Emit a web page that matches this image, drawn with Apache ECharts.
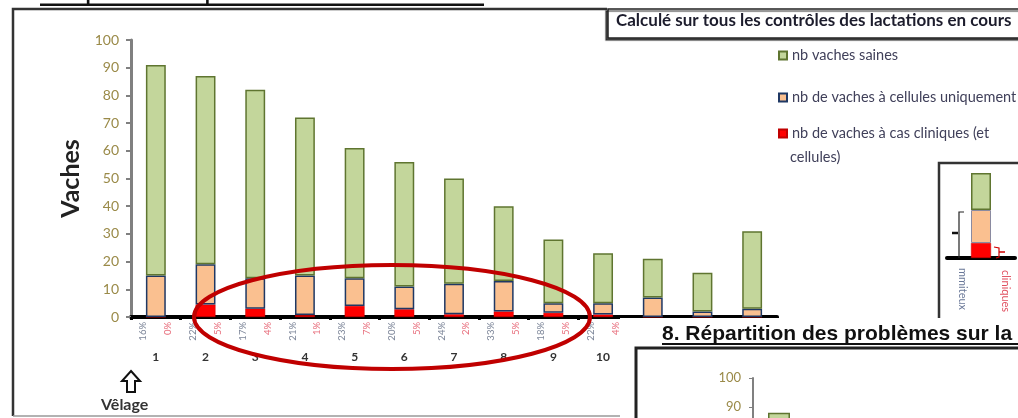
<!DOCTYPE html>
<html>
<head>
<meta charset="utf-8">
<script src="https://cdn.jsdelivr.net/npm/echarts@6/dist/echarts.min.js"></script>
<style>html,body{margin:0;padding:0;background:#fff}#c{width:1018px;height:418px}</style>
</head>
<body>
<div id="c"></div>
<script>
// ---- data ----
const categories = ['1','2','3','4','5','6','7','8','9','10','11','12','13'];
const healthy   = [76, 68, 68, 57, 47, 45, 38, 27, 23, 18, 14, 14, 28];
const cellsOnly = [15, 14.5, 11, 14.3, 10, 8.2, 11, 11, 3.5, 4.1, 7, 2, 3];
const clinical  = [0, 4.5, 3, 0.7, 4, 2.8, 1, 2, 1.5, 0.9, 0, 0, 0];
const cellsPct    = ['16%','22%','17%','21%','23%','20%','24%','33%','18%','22%','33%','13%','10%'];
const clinicalPct = ['0%','5%','4%','1%','7%','5%','2%','5%','5%','4%','0%','0%','0%'];
const yTicks = [0,10,20,30,40,50,60,70,80,90,100];
// inset schematic bar (relative heights)
const insetCategories = ['ex'];
const insetClinical = [15];
const insetCells = [33];
const insetHealthy = [37];
// overlapping next chart (only first bar visible)
const nextCategories = ['1'];
const nextHealthy = [88];

const nameHealthy = 'nb vaches saines';
const nameCells = 'nb de vaches à cellules uniquement';
const nameClin = 'nb de vaches à cas cliniques (et';

const pctLabels = [];
categories.forEach((c,i)=>{ pctLabels.push(cellsPct[i]); pctLabels.push(clinicalPct[i]); });

const FONT = 'Lato';
const olive = '#9a8a48';
const green = '#c3d69b', greenB = '#5f7530';
const orange = '#fac090', orangeB = '#1f3864';
const red = '#ff0000', redB = '#c00000';

const chart = echarts.init(document.getElementById('c'), null, {renderer:'canvas'});
const legendBase = {orient:'vertical', left:778, padding:0, itemWidth:8, itemHeight:8, icon:'rect',
  textStyle:{fontFamily:FONT, fontSize:14.5, color:'#40405a'}, itemGap:4, selectedMode:false};

chart.setOption({
  animation:false,
  textStyle:{fontFamily:FONT},
  legend:[
    Object.assign({}, legendBase, {top:48, data:[nameHealthy]}),
    Object.assign({}, legendBase, {top:90, data:[nameCells]}),
    Object.assign({}, legendBase, {top:126, data:[nameClin]})
  ],
  grid:[
    {left:131, right:241, top:40, bottom:101, containLabel:false},
    {left:753, top:378, width:52, height:290, outerBoundsMode:'none', containLabel:false},
    {left:947, top:173, width:68, bottom:160, outerBoundsMode:'none'}
  ],
  xAxis:[
    {type:'category', gridIndex:0, data:categories,
     axisLine:{lineStyle:{color:'#000', width:4}},
     axisTick:{show:true, length:3, lineStyle:{color:'#000', width:3}},
     axisLabel:{margin:34, fontSize:12, fontWeight:'bold', color:'#333', fontFamily:FONT}},
    {type:'category', gridIndex:0, data:pctLabels, position:'bottom',
     axisLine:{show:false}, axisTick:{show:false},
     axisLabel:{interval:0, rotate:90, margin:5,
       formatter:(v,i)=> (i%2===0 ? '{g|'+v+'}' : '{r|'+v+'}'),
       rich:{g:{color:'#7d8699', fontSize:9.5, fontFamily:FONT}, r:{color:'#e8707e', fontSize:9.5, fontFamily:FONT}}}},
    {type:'category', gridIndex:1, data:nextCategories, show:false},
    {type:'category', gridIndex:2, data:insetCategories,
     axisLine:{lineStyle:{color:'#000', width:4}}, axisTick:{show:false}, axisLabel:{show:false}}
  ],
  yAxis:[
    {type:'value', gridIndex:0, min:0, max:100, interval:10,
     name:'Vaches', nameLocation:'middle', nameGap:46, nameRotate:90,
     nameTextStyle:{fontSize:25, fontWeight:'bold', color:'#222', fontFamily:FONT},
     axisLine:{show:true, lineStyle:{color:'#808080', width:3}},
     axisTick:{show:true, length:5, lineStyle:{color:'#808080', width:2}},
     splitLine:{show:false},
     axisLabel:{margin:12, fontSize:14, color:olive, fontFamily:FONT,
       formatter:(v)=> yTicks.indexOf(v)>=0 ? String(v) : ''}},
    {type:'value', gridIndex:1, min:0, max:100, interval:10, z:60,
     axisLine:{show:true, lineStyle:{color:'#808080', width:2}},
     axisTick:{show:true, length:4, lineStyle:{color:'#808080'}},
     splitLine:{show:false},
     axisLabel:{margin:12, fontSize:13, color:olive, fontFamily:FONT}},
    {type:'value', gridIndex:2, min:0, max:'dataMax', show:false, splitLine:{show:false}}
  ],
  series:[
    {name:nameClin, type:'bar', stack:'a', data:clinical, barWidth:'40%',
     itemStyle:{color:red, borderColor:redB, borderWidth:0.5}},
    {name:nameCells, type:'bar', stack:'a', data:cellsOnly, barWidth:'40%',
     itemStyle:{color:orange, borderColor:orangeB, borderWidth:1.5}},
    {name:nameHealthy, type:'bar', stack:'a', data:healthy, barWidth:'40%',
     itemStyle:{color:green, borderColor:greenB, borderWidth:1.5}},
    {name:'next', type:'bar', xAxisIndex:2, yAxisIndex:1, data:nextHealthy, barWidth:22, z:60,
     itemStyle:{color:green, borderColor:greenB, borderWidth:1.5}},
    {name:'i1', type:'bar', stack:'i', xAxisIndex:3, yAxisIndex:2, data:insetClinical, barWidth:20,
     itemStyle:{color:red, borderColor:redB, borderWidth:0.5}},
    {name:'i2', type:'bar', stack:'i', xAxisIndex:3, yAxisIndex:2, data:insetCells, barWidth:20,
     itemStyle:{color:orange, borderColor:'#8a8aa0', borderWidth:1}},
    {name:'i3', type:'bar', stack:'i', xAxisIndex:3, yAxisIndex:2, data:insetHealthy, barWidth:20,
     itemStyle:{color:green, borderColor:greenB, borderWidth:1.5}}
  ],
  graphic:[
    // clipped heading at the top
    {type:'text', left:40, top:-15, z:10, style:{text:'7. Répartition des problèmes sur la lactation', font:'bold 19px "Liberation Sans"', fill:'#111'}},
    {type:'rect', z:10, shape:{x:40, y:3.5, width:444, height:2.5}, style:{fill:'#111'}},
    // main frame
    {type:'polyline', z:10, shape:{points:[[607,9],[13,9],[13,416]]}, style:{stroke:'#333', lineWidth:2.5, fill:null}},
    {type:'line', z:10, shape:{x1:13, y1:416, x2:620, y2:416}, style:{stroke:'#999', lineWidth:1.5}},
    // "Calculé" box
    {type:'rect', z:10, shape:{x:608, y:9, width:430, height:29}, style:{fill:'#fff', stroke:'#222', lineWidth:1.5, shadowColor:'rgba(0,0,0,0.6)', shadowOffsetX:-2, shadowOffsetY:2, shadowBlur:1}},
    {type:'text', z:11, left:616, top:12, style:{text:'Calculé sur tous les contrôles des lactations en cours', font:'bold 17px Lato', fill:'#1c1c2c'}},
    // legend 2nd line
    {type:'text', z:10, left:790, top:150, style:{text:'cellules)', font:'14.5px Lato', fill:'#40405a'}},
    // ellipse
    {type:'ellipse', z:40, shape:{cx:392, cy:317, rx:198, ry:52}, style:{fill:null, stroke:'#c00000', lineWidth:4}},
    // Vêlage arrow + text
    {type:'polygon', z:10, shape:{points:[[131,371],[140,381],[135,381],[135,392],[127,392],[127,381],[122,381]]}, style:{fill:'#fff', stroke:'#111', lineWidth:2}},
    {type:'text', z:10, left:101, top:397, style:{text:'Vêlage', font:'bold 16px Lato', fill:'#333'}},
    // inset box
    {type:'polyline', z:10, shape:{points:[[1018,163],[939,163],[939,318]]}, style:{stroke:'#333', lineWidth:2.5, fill:null}},
    {type:'polyline', z:10, shape:{points:[[964,212],[959,212],[959,258]]}, style:{stroke:'#222', lineWidth:1.2, fill:null}},
    {type:'line', z:10, shape:{x1:952, y1:233, x2:958, y2:233}, style:{stroke:'#111', lineWidth:2.5}},
    {type:'polyline', z:10, shape:{points:[[994,247],[999,248],[999,257],[996,258]]}, style:{stroke:'#d00000', lineWidth:1.2, fill:null}},
    {type:'line', z:10, shape:{x1:999, y1:252, x2:1005, y2:252}, style:{stroke:'#d00000', lineWidth:1.5}},
    {type:'text', z:10, x:968, y:268, rotation:-Math.PI/2, style:{text:'mmiteux', font:'11px Lato', fill:'#6a7898'}},
    {type:'text', z:10, x:1011, y:270, rotation:-Math.PI/2, style:{text:'cliniques', font:'11px Lato', fill:'#e05060'}},
    // overlapping next page panel
    {type:'rect', z:50, shape:{x:620, y:318, width:400, height:100}, style:{fill:'#fff'}},
    {type:'text', z:51, left:662, top:324, style:{text:'8. Répartition des problèmes sur la lactation', font:'bold 21px "Liberation Sans"', fill:'#111'}},
    {type:'rect', z:51, shape:{x:662, y:343, width:360, height:2}, style:{fill:'#111'}},
    {type:'polyline', z:51, shape:{points:[[1018,348],[636,348],[636,418]]}, style:{stroke:'#222', lineWidth:3, fill:null}}
  ]
});
</script>
</body>
</html>
